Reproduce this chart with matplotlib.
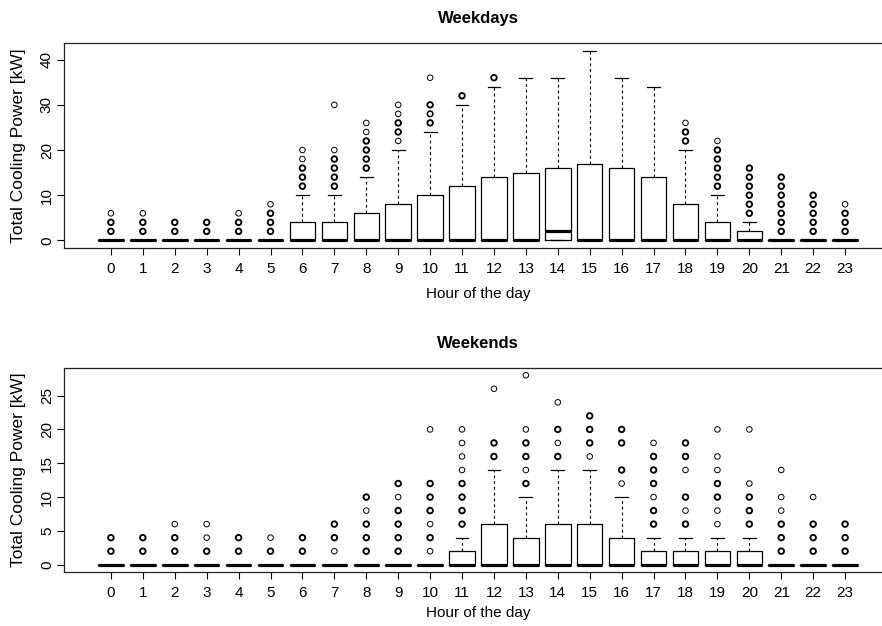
import numpy as np
import matplotlib
matplotlib.use("Agg")
import matplotlib.pyplot as plt

plt.rcParams["font.family"] = ["Liberation Sans", "DejaVu Sans"]

hours = list(range(24))

# Weekday box statistics per hour (kW)
wd_q1 = [0] * 24
wd_med = [0, 0, 0, 0, 0, 0, 0, 0, 0, 0, 0, 0, 0, 0, 2, 0, 0, 0, 0, 0, 0, 0, 0, 0]
wd_q3 = [0, 0, 0, 0, 0, 0, 4, 4, 6, 8, 10, 12, 14, 15, 16, 17, 16, 14, 8, 4, 2, 0, 0, 0]
wd_whislo = [0] * 24
wd_whishi = [0, 0, 0, 0, 0, 0, 10, 10, 14, 20, 24, 30, 34, 36, 36, 42, 36, 34, 20, 10, 4, 0, 0, 0]
wd_out = [
    [2, 4, 6], [2, 4, 6], [2, 4], [2, 4], [2, 4, 6], [2, 4, 6, 8],
    [12, 14, 16, 18, 20], [12, 14, 16, 18, 20, 30], [16, 18, 20, 22, 24, 26],
    [22, 24, 26, 28, 30], [26, 28, 30, 36], [32], [36], [], [], [], [], [],
    [22, 24, 26], [12, 14, 16, 18, 20, 22], [6, 8, 10, 12, 14, 16],
    [2, 4, 6, 8, 10, 12, 14], [2, 4, 6, 8, 10], [2, 4, 6, 8],
]
wd_out_n = [
    [3, 3, 1], [3, 3, 1], [3, 3], [3, 3], [3, 3, 1], [3, 3, 3, 1],
    [3, 3, 3, 1, 1], [3, 3, 3, 3, 1, 1], [3, 3, 3, 3, 1, 1],
    [1, 3, 3, 1, 1], [3, 2, 3, 1], [3], [3], [], [], [], [], [],
    [3, 3, 1], [3, 3, 3, 3, 3, 1], [3, 3, 3, 3, 3, 3],
    [3, 3, 3, 3, 3, 3, 3], [3, 3, 3, 3, 3], [3, 3, 3, 1],
]

# Weekend box statistics per hour (kW)
we_q1 = [0] * 24
we_med = [0] * 24
we_q3 = [0, 0, 0, 0, 0, 0, 0, 0, 0, 0, 0, 2, 6, 4, 6, 6, 4, 2, 2, 2, 2, 0, 0, 0]
we_whislo = [0] * 24
we_whishi = [0, 0, 0, 0, 0, 0, 0, 0, 0, 0, 0, 4, 14, 10, 14, 14, 10, 4, 4, 4, 4, 0, 0, 0]
we_out = [
    [2, 4], [2, 4], [2, 4, 6], [2, 4, 6], [2, 4], [2, 4], [2, 4], [2, 4, 6],
    [2, 4, 6, 8, 10], [2, 4, 6, 8, 10, 12], [2, 4, 6, 8, 10, 12, 20],
    [6, 8, 10, 12, 14, 16, 18, 20], [16, 18, 26], [12, 14, 16, 18, 20, 28],
    [16, 18, 20, 24], [16, 18, 20, 22], [12, 14, 18, 20],
    [6, 8, 10, 12, 14, 16, 18], [6, 8, 10, 14, 16, 18],
    [6, 8, 10, 12, 14, 16, 20], [6, 8, 10, 12, 20],
    [2, 4, 6, 8, 10, 14], [2, 4, 6, 10], [2, 4, 6],
]
we_out_n = [
    [3, 3], [3, 3], [3, 3, 1], [3, 1, 1], [3, 3], [3, 1], [3, 3], [1, 3, 3],
    [3, 3, 3, 1, 3], [3, 3, 3, 3, 1, 3], [1, 3, 1, 3, 3, 3, 1],
    [3, 3, 3, 3, 1, 1, 1, 1], [3, 3, 1], [3, 1, 3, 3, 1, 1],
    [3, 1, 3, 1], [1, 3, 3, 3], [1, 3, 3, 3],
    [3, 3, 1, 3, 3, 3, 1], [3, 1, 3, 1, 3, 3],
    [1, 1, 3, 3, 1, 1, 1], [3, 3, 3, 1, 1],
    [3, 3, 3, 1, 1, 1], [3, 3, 3, 1], [3, 3, 3],
]

titles = ["Weekdays", "Weekends"]
y_ticks = [[0, 10, 20, 30, 40], [0, 5, 10, 15, 20, 25]]
x_label = "Hour of the day"
y_label = "Total Cooling Power [kW]"

W, H = 882, 626
fig = plt.figure(figsize=(W / 100, H / 100), dpi=100)


def px_axes(left, top, right, bottom):
    return fig.add_axes([left / W, 1 - bottom / H, (right - left) / W, (bottom - top) / H])


panels = [
    (px_axes(64.3, 43, 891.7, 248), wd_q1, wd_med, wd_q3, wd_whislo, wd_whishi, wd_out, wd_out_n),
    (px_axes(64.3, 367.7, 891.7, 572.3), we_q1, we_med, we_q3, we_whislo, we_whishi, we_out, we_out_n),
]

for i, (ax, q1, med, q3, wlo, whi, outs, outn) in enumerate(panels):
    ax.patch.set_visible(False)
    stats = [
        dict(q1=q1[h], med=med[h], q3=q3[h], whislo=wlo[h], whishi=whi[h], fliers=[])
        for h in hours
    ]
    ax.bxp(
        stats, positions=hours, widths=0.8, capwidths=0.4, showfliers=False,
        boxprops=dict(color="black", linewidth=0.9),
        medianprops=dict(color="black", linewidth=2.3, solid_capstyle="butt"),
        whiskerprops=dict(color="black", linewidth=0.8, linestyle=(0, (2.6, 2.6))),
        capprops=dict(color="black", linewidth=0.9),
    )
    for h in hours:
        if not outs[h]:
            continue
        lws = [1.35 if n >= 3 else (1.1 if n == 2 else 0.7) for n in outn[h]]
        ax.scatter([h] * len(outs[h]), outs[h], s=16, facecolors="none",
                   edgecolors="black", linewidths=lws, zorder=3)

    ymax = max(max(whi), max(v for o in outs for v in o))
    pad = 0.04 * ymax
    ax.set_ylim(-pad, ymax + pad)
    ax.set_xlim(-1.46, 24.46)
    ax.set_xticks(hours)
    ax.set_xticklabels([str(h) for h in hours])
    ax.set_yticks(y_ticks[i])
    ax.set_yticklabels([str(t) for t in y_ticks[i]], rotation=90, va="center")
    ax.tick_params(axis="both", length=5, width=0.8, labelsize=11, color="black")
    ax.tick_params(axis="x", pad=5)
    ax.tick_params(axis="y", pad=2.5)
    ax.spines["right"].set_visible(False)
    for s in ax.spines.values():
        s.set_linewidth(0.9)
        s.set_color("#222222")

fig.text(478 / W, 1 - 18 / H, titles[0], ha="center", va="center", fontsize=12, fontweight="bold")
fig.text(478 / W, 1 - 343 / H, titles[1], ha="center", va="center", fontsize=12, fontweight="bold")
fig.text(478 / W, 1 - 294 / H, x_label, ha="center", va="center", fontsize=11)
fig.text(478 / W, 1 - 613 / H, x_label, ha="center", va="center", fontsize=11)
fig.text(19 / W, 1 - 145.5 / H, y_label, ha="center", va="center", fontsize=12.5, rotation=90)
fig.text(19 / W, 1 - 470 / H, y_label, ha="center", va="center", fontsize=12.5, rotation=90)

fig.savefig("out.png", dpi=100)
